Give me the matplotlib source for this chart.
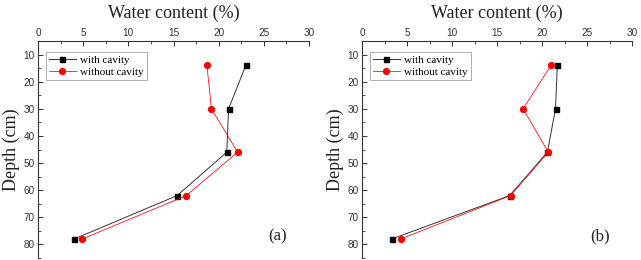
import matplotlib
matplotlib.use("Agg")
import matplotlib.pyplot as plt
from matplotlib.ticker import MultipleLocator

# depth of each sampling point (cm)
depth = [14, 30, 46, 62, 78]

# panel (a)
a_with = [23.0, 21.1, 20.9, 15.4, 4.0]
a_without = [18.7, 19.2, 22.1, 16.4, 4.9]

# panel (b)
b_with = [21.7, 21.5, 20.6, 16.4, 3.3]
b_without = [21.0, 17.9, 20.7, 16.5, 4.3]

panel_labels = ["(a)", "(b)"]
series_labels = ["with cavity", "without cavity"]

serif = ["Liberation Serif", "DejaVu Serif"]
sans = ["Liberation Sans", "DejaVu Sans"]

fig = plt.figure(figsize=(6.41, 2.60), dpi=100)
W, H = 641, 260

boxes = [(38, 41, 309, 258), (362, 41, 632, 258)]
data = [(a_with, a_without), (b_with, b_without)]

for (l, t, r, b), (w, wo), lab in zip(boxes, data, panel_labels):
    ax = fig.add_axes([l / W, 1 - b / H, (r - l) / W, (b - t) / H])
    ax.plot(w, depth, color="#333333", lw=0.7, marker="s", ms=3.6,
            mfc="black", mec="black", label=series_labels[0])
    ax.plot(wo, depth, color="red", lw=0.55, marker="o", ms=4.2,
            mfc="red", mec="red", label=series_labels[1])

    ax.set_xlim(0, 30)
    ax.set_ylim(85, 5)
    ax.xaxis.set_major_locator(MultipleLocator(5))
    ax.xaxis.set_minor_locator(MultipleLocator(2.5))
    ax.yaxis.set_major_locator(MultipleLocator(10))
    ax.yaxis.set_minor_locator(MultipleLocator(5))
    ax.set_yticks(range(10, 81, 10))
    ax.xaxis.tick_top()
    ax.xaxis.set_label_position("top")
    ax.spines["right"].set_visible(False)
    ax.spines["bottom"].set_visible(False)
    for s in ("top", "left"):
        ax.spines[s].set_linewidth(0.8)
        ax.spines[s].set_color("#333333")
    ax.tick_params(which="major", direction="in", length=3.5, width=0.7,
                   labelsize=7.2, pad=2.5, colors="#333333")
    ax.tick_params(which="minor", direction="in", length=2, width=0.6,
                   colors="#333333")
    ax.tick_params(axis="x", which="both", top=True, bottom=False)
    ax.tick_params(axis="y", which="both", left=True, right=False)
    for tl in ax.get_xticklabels() + ax.get_yticklabels():
        tl.set_family(sans)
        tl.set_color("#333333")

    ax.set_xlabel("Water content (%)", family=serif, fontsize=13,
                  color="#222222", labelpad=7)
    ax.set_ylabel("Depth (cm)", family=serif, fontsize=13,
                  color="#222222", labelpad=2)
    ax.text(26.5, 77, lab, family=serif, fontsize=12, color="#222222",
            ha="center", va="center")

    leg = ax.legend(loc="upper left", bbox_to_anchor=(0.02, 0.96),
                    prop={"family": serif, "size": 8}, frameon=True,
                    fancybox=False, borderpad=0.3, labelspacing=0.2,
                    handlelength=2.4, handletextpad=0.4, borderaxespad=0.2)
    leg.get_frame().set_edgecolor("#999999")
    leg.get_frame().set_linewidth(0.7)

fig.savefig("out.png", dpi=100)
